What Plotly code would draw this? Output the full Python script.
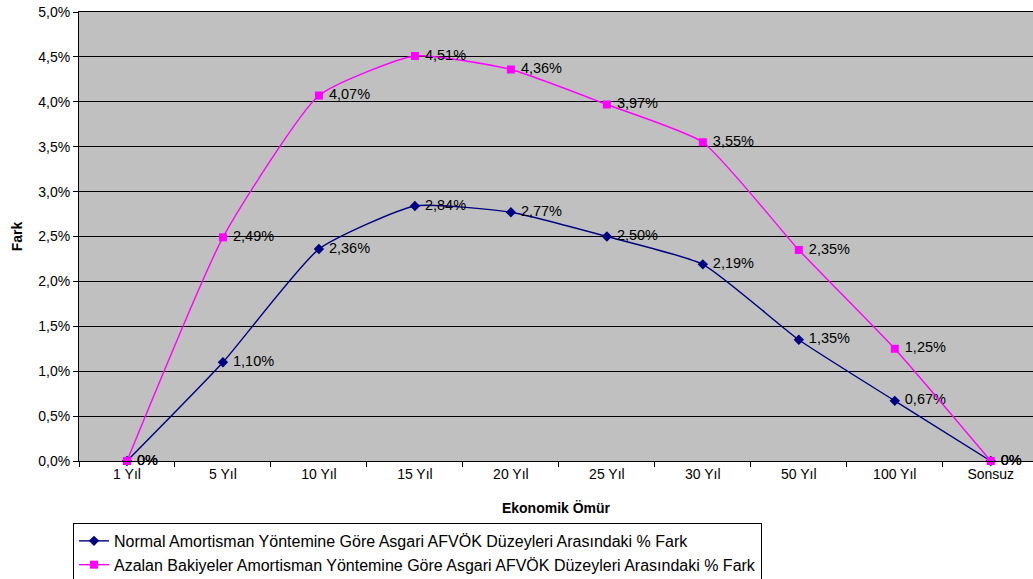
import plotly.graph_objects as go

categories = ["1 Yıl", "5 Yıl", "10 Yıl", "15 Yıl", "20 Yıl", "25 Yıl", "30 Yıl", "50 Yıl", "100 Yıl", "Sonsuz"]
normal_pct = [0.0, 1.10, 2.36, 2.84, 2.77, 2.50, 2.19, 1.35, 0.67, 0.0]
azalan_pct = [0.0, 2.49, 4.07, 4.51, 4.36, 3.97, 3.55, 2.35, 1.25, 0.0]
y_ticks = [0, 0.5, 1.0, 1.5, 2.0, 2.5, 3.0, 3.5, 4.0, 4.5, 5.0]

name_normal = "Normal Amortisman Yöntemine Göre Asgari AFVÖK Düzeyleri Arasındaki % Fark"
name_azalan = "Azalan Bakiyeler Amortisman Yöntemine Göre Asgari AFVÖK Düzeyleri Arasındaki % Fark"


def lbl(v):
    s = "0%" if v == 0 else ("%.2f%%" % v).replace(".", ",")
    return "\u00a0" + s


FONT = "Liberation Sans, Arial, sans-serif"

fig = go.Figure()
fig.add_trace(go.Scatter(
    x=categories, y=normal_pct, name=name_normal, legendgroup="a",
    mode="lines+markers+text", text=[lbl(v) for v in normal_pct],
    textposition="middle right", textfont=dict(size=14.5, color="black", family=FONT),
    line=dict(color="#000080", width=1.4, shape="spline", smoothing=0.5),
    marker=dict(symbol="diamond", size=8, color="#000080"),
    cliponaxis=False,
))
fig.add_trace(go.Scatter(
    x=categories, y=azalan_pct, name=name_azalan, legendgroup="b",
    mode="lines+markers+text", text=[lbl(v) for v in azalan_pct],
    textposition="middle right", textfont=dict(size=14.5, color="black", family=FONT),
    line=dict(color="#FF00FF", width=1.4, shape="spline", smoothing=0.5),
    marker=dict(symbol="square", size=8, color="#FF00FF"),
    cliponaxis=False,
))

fig.update_layout(
    width=1033, height=579,
    margin=dict(l=79, r=0, t=12, b=118, autoexpand=False),
    paper_bgcolor="white", plot_bgcolor="#C0C0C0",
    font=dict(family=FONT, size=14, color="black"),
    showlegend=True,
    legend=dict(
        x=-0.0063, y=-0.138, xanchor="left", yanchor="top",
        bgcolor="white", bordercolor="black", borderwidth=1,
        font=dict(size=16, family=FONT), tracegroupgap=11,
        traceorder="normal",
    ),
)
fig.update_xaxes(
    type="category", range=[-0.5, 9.44], automargin=False,
    showgrid=False, showline=True, linecolor="black", linewidth=1, mirror=True,
    ticks="outside", ticklen=5, tickcolor="black", tickson="boundaries",
    tickfont=dict(size=14), zeroline=False,
    title=dict(text="<b>Ekonomik Ömür</b>", font=dict(size=14), standoff=22),
)
fig.update_yaxes(
    range=[0, 5.0], tickvals=y_ticks, automargin=False,
    ticktext=[("%.1f%%" % v).replace(".", ",") for v in y_ticks],
    showgrid=True, gridcolor="black", gridwidth=1,
    showline=True, linecolor="black", linewidth=1,
    ticks="outside", ticklen=5, tickcolor="black",
    tickfont=dict(size=14), zeroline=False,
    title=dict(text="<b>Fark</b>", font=dict(size=14), standoff=12),
)

fig.write_html("out.html")
